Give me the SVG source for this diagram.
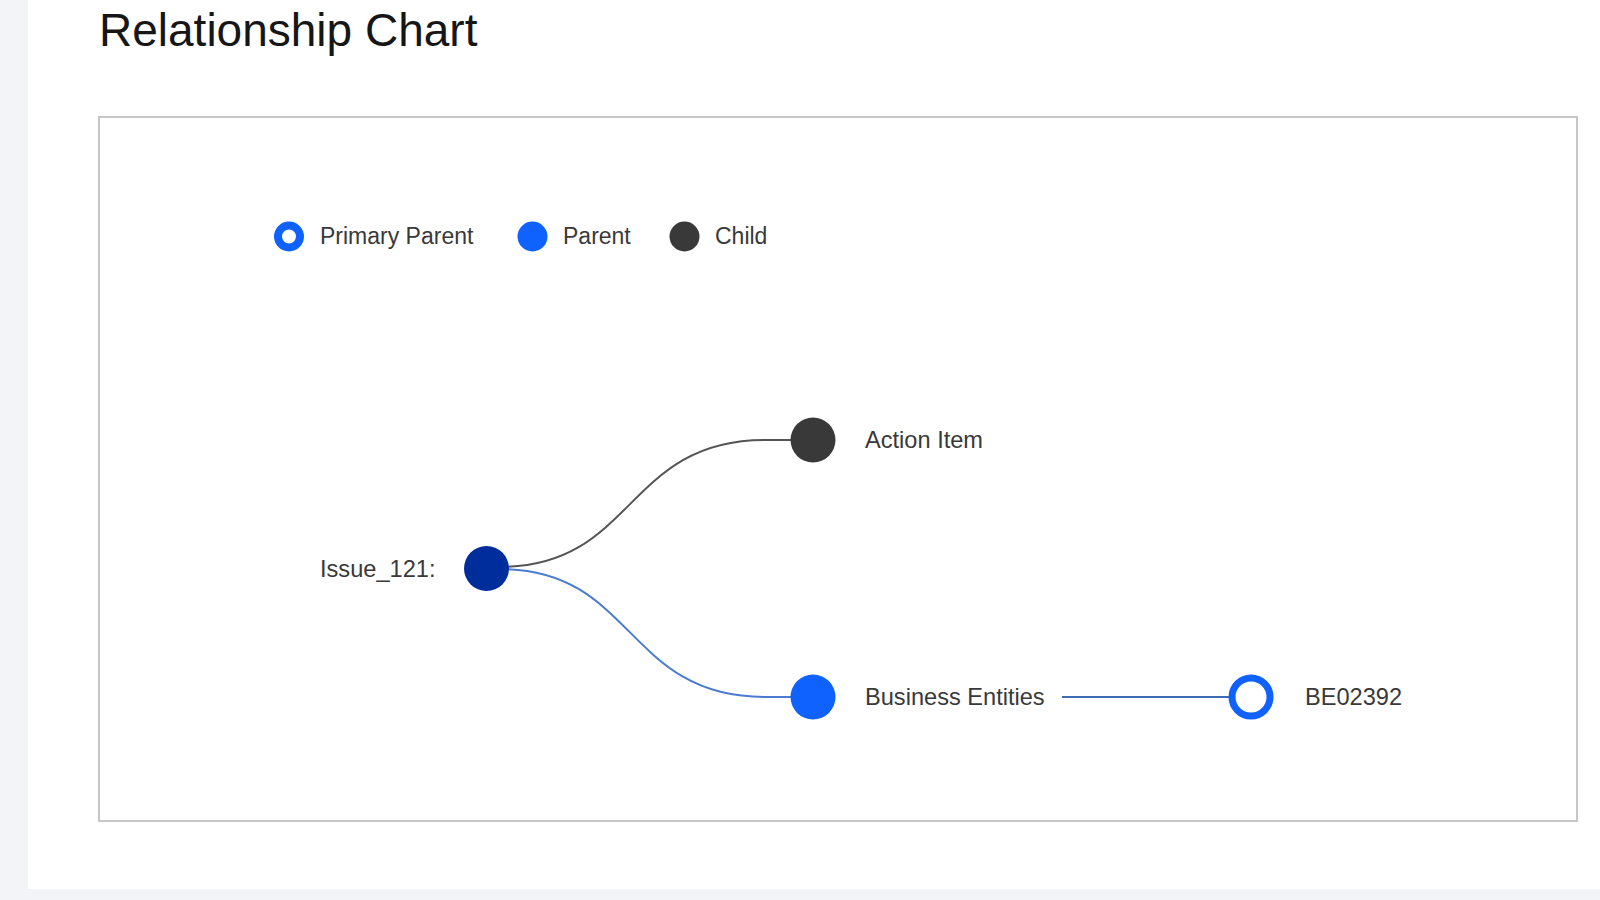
<svg xmlns="http://www.w3.org/2000/svg" width="1600" height="900" viewBox="0 0 1600 900">
<style>
.t{font-family:"Liberation Sans",Arial,sans-serif;fill:#393939;}
.title{font-size:46px;fill:#161616;}
.leg{font-size:23px;}
.lbl{font-size:23.6px;}
.link{fill:none;stroke-width:2;}
</style>
<rect x="0" y="0" width="1600" height="900" fill="#ffffff"/>
<rect x="0" y="0" width="28" height="900" fill="#f2f4f8"/>
<rect x="0" y="889" width="1600" height="11" fill="#f2f4f8"/>
<text class="t title" x="99" y="46">Relationship Chart</text>
<rect x="99" y="117" width="1478" height="704" fill="#ffffff" stroke="#c6c6c6" stroke-width="2"/>
<g id="legend">
  <circle cx="289" cy="236.5" r="11" fill="#ffffff" stroke="#0f62fe" stroke-width="8"/>
  <text class="t leg" x="320" y="244">Primary Parent</text>
  <circle cx="532.5" cy="236.5" r="15" fill="#0f62fe"/>
  <text class="t leg" x="563" y="244">Parent</text>
  <circle cx="684.5" cy="236.5" r="15" fill="#393939"/>
  <text class="t leg" x="715" y="244">Child</text>
</g>
<g id="connectors">
  <path class="link" stroke="#555555" d="M500,567 C635,567 625,440 765,440 L792,440"/>
  <path class="link" stroke="#4a7bd0" d="M500,569 C635,569 625,697 765,697 L792,697"/>
  <path class="link" stroke="#3d6cb5" d="M1062,697 L1232,697"/>
</g>
<g id="node-issue">
  <circle cx="486.5" cy="568.5" r="22.5" fill="#002d9c"/>
  <text class="t lbl" x="320" y="577">Issue_121:</text>
</g>
<g id="node-action">
  <circle cx="813" cy="440" r="22.5" fill="#393939"/>
  <text class="t lbl" x="865" y="448">Action Item</text>
</g>
<g id="node-business">
  <circle cx="813" cy="697" r="22.5" fill="#0f62fe"/>
  <text class="t lbl" x="865" y="705">Business Entities</text>
</g>
<g id="node-be02392">
  <circle cx="1251" cy="697" r="19" fill="#ffffff" stroke="#0f62fe" stroke-width="7"/>
  <text class="t lbl" x="1305" y="705">BE02392</text>
</g>
</svg>
